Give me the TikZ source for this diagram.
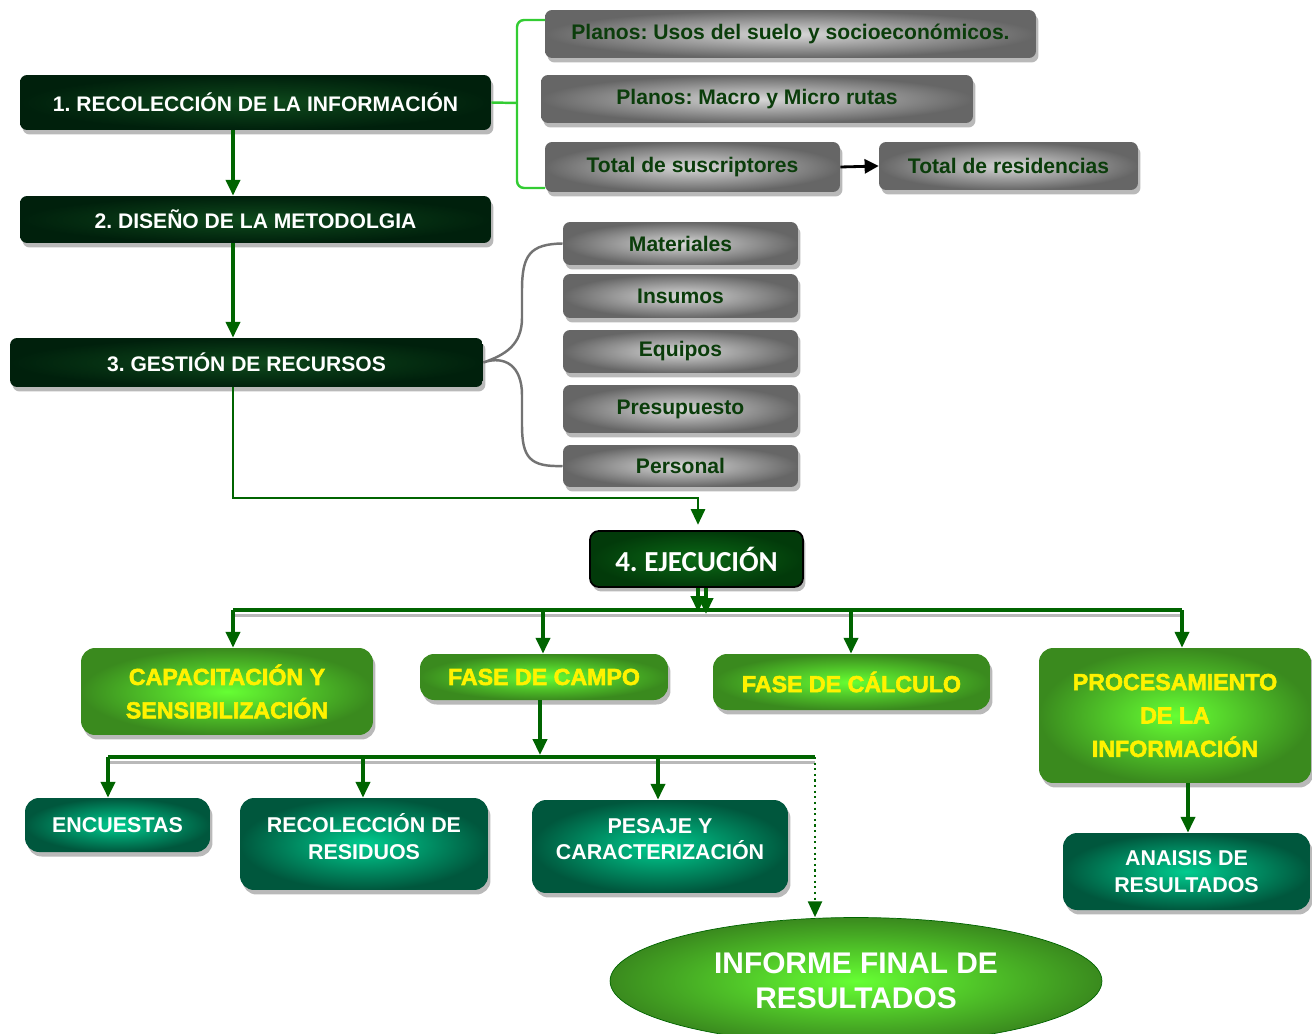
\documentclass[tikz,border=0pt]{standalone}
\usepackage{fontspec}
\setmainfont{Liberation Sans}
\newfontfamily\calfont{Carlito}
\newfontfamily\blackfont[BoldFeatures={FakeBold=2.5}]{Liberation Sans}
\usetikzlibrary{arrows.meta,shadows,shapes.geometric}
\frenchspacing
\definecolor{darkout}{HTML}{00200C}
\definecolor{darkin}{HTML}{0E4A1C}
\definecolor{ejecin}{HTML}{0B6A16}
\definecolor{ejecout}{HTML}{023A0A}
\definecolor{arrowgreen}{HTML}{006400}
\definecolor{limeline}{HTML}{33CC33}
\definecolor{graytext}{HTML}{0B3D0B}
\definecolor{leafin}{HTML}{66FF33}
\definecolor{leafout}{HTML}{3A8A1E}
\definecolor{tealin}{HTML}{00CC8F}
\definecolor{tealout}{HTML}{00573D}
\tikzset{
  box/.style={rounded corners=4pt, inner sep=0pt, align=center,
    drop shadow={shadow xshift=0.05cm, shadow yshift=-0.09cm, fill=gray!55, opacity=1}},
  darkbox/.style={box, inner color=darkin, outer color=darkout, text=white,
    font=\fontsize{12}{14}\selectfont\bfseries},
  graybox/.style={box, inner color=black!15, outer color=black!60, text=graytext,
    font=\fontsize{12}{14}\selectfont\bfseries},
  leafbox/.style={box, rounded corners=8pt, inner color=leafin, outer color=leafout, text=yellow,
    font=\fontsize{13.2}{19}\selectfont\blackfont\bfseries},
  tealbox/.style={box, rounded corners=8pt, inner color=tealin, outer color=tealout, text=white,
    font=\fontsize{12.2}{15}\selectfont\bfseries},
  arr/.style={draw=arrowgreen, line width=2pt, -{Triangle[length=9pt,width=8pt]}},
  busline/.style={draw=arrowgreen, line width=2pt, preaction={draw=gray!55, line width=1.5pt, transform canvas={yshift=-3pt}}}
}
\begin{document}
\begin{tikzpicture}[x=0.02cm, y=-0.02cm]
\useasboundingbox (0,0) rectangle (1312,1034);
% etapas
\node[darkbox, minimum width=9.42cm, minimum height=1.1cm] (rec) at (255.5,102.5) {1. RECOLECCIÓN DE LA INFORMACIÓN};
\node[darkbox, minimum width=9.42cm, minimum height=0.94cm] (dis) at (255.5,219.5) {2. DISEÑO DE LA METODOLGIA};
\node[darkbox, minimum width=9.46cm, minimum height=0.98cm] (ges) at (246.5,362.5) {3. GESTIÓN DE RECURSOS};
\node[darkbox, draw=black, line width=1pt, rounded corners=5pt, inner color=ejecin, outer color=ejecout,
  minimum width=4.26cm, minimum height=1.12cm,
  font=\fontsize{16.5}{18}\selectfont\calfont\bfseries] (ejec) at (696.5,559) {4. EJECUCIÓN};
% informacion
\node[graybox, minimum width=9.82cm, minimum height=0.96cm] (usos) at (790.5,34) {Planos: Usos del suelo y socioeconómicos.};
\node[graybox, minimum width=8.64cm, minimum height=0.96cm] (macro) at (757,99) {Planos: Macro y Micro rutas};
\node[graybox, minimum width=5.9cm, minimum height=1cm] (susc) at (692.5,167) {Total de suscriptores};
\node[graybox, minimum width=5.18cm, minimum height=0.96cm] (resid) at (1008.5,166) {Total de residencias};
% recursos
\node[graybox, minimum width=4.7cm, minimum height=0.86cm] (mat) at (680.5,243.5) {Materiales};
\node[graybox, minimum width=4.7cm, minimum height=0.88cm] (ins) at (680.5,296) {Insumos};
\node[graybox, minimum width=4.7cm, minimum height=0.86cm] (equ) at (680.5,351.5) {Equipos};
\node[graybox, minimum width=4.7cm, minimum height=0.96cm] (pre) at (680.5,409) {Presupuesto};
\node[graybox, minimum width=4.7cm, minimum height=0.84cm] (per) at (680.5,466) {Personal};
% fases
\node[leafbox, minimum width=5.84cm, minimum height=1.74cm] (cap) at (227,691.5) {CAPACITACIÓN Y\\SENSIBILIZACIÓN};
\node[leafbox, minimum width=4.96cm, minimum height=0.92cm] (campo) at (544,677) {FASE DE CAMPO};
\node[leafbox, minimum width=5.54cm, minimum height=1.12cm] (calc) at (851.5,682) {FASE DE CÁLCULO};
\node[leafbox, minimum width=5.44cm, minimum height=2.7cm] (proc) at (1175,715.5) {PROCESAMIENTO\\DE LA\\INFORMACIÓN};
\node[tealbox, minimum width=3.7cm, minimum height=1.08cm] (enc) at (117.5,825) {ENCUESTAS};
\node[tealbox, minimum width=4.96cm, minimum height=1.84cm] (recres) at (364,844) {RECOLECCIÓN DE\\RESIDUOS\\[-0.22cm]};
\node[tealbox, minimum width=5.12cm, minimum height=1.86cm] (pes) at (660,846.5) {PESAJE Y\\CARACTERIZACIÓN\\[-0.22cm]};
\node[tealbox, minimum width=4.94cm, minimum height=1.54cm] (ana) at (1186.5,871.5) {ANAISIS DE\\RESULTADOS};
\node[ellipse, draw=arrowgreen, inner color=leafin, outer color=leafout, text=white, align=center,
  minimum width=9.84cm, minimum height=2.54cm, inner sep=0pt,
  font=\fontsize{17}{20}\selectfont\bfseries] (inf) at (856,981) {INFORME FINAL DE\\RESULTADOS};
% puntos de giro
\coordinate (colA) at (233,0);
\coordinate (gbend) at (698,498);
\coordinate (busL) at (233,610);
\coordinate (busR) at (1182,610);
\coordinate (subL) at (108,757);
\coordinate (subR) at (815,757);
% conectores
\path[draw, limeline, line width=1.4pt, rounded corners=3pt] (rec.east) -- (517,103);
\path[draw, limeline, line width=1.4pt, rounded corners=4pt] (545,20) -- (517,20) -- (517,188) -- (545,188);
\path[draw, black!55, line width=1.4pt] (mat.west) .. controls (530,244) and (522,255) .. (522,290) -- (522,318)
  .. controls (522,345) and (505,355) .. (ges.east) .. controls (505,355) and (522,366) .. (522,395) -- (522,425)
  .. controls (522,458) and (530,467) .. (per.west);
\path[draw, black, line width=1.6pt, -{Triangle[length=8pt,width=8pt]}] (susc.east) -- (resid.west);
\path[arr] (rec.south -| colA) -- (dis.north -| colA);
\path[arr] (dis.south -| colA) -- (ges.north -| colA);
\path[arr, line width=1.6pt, shorten >=3pt] (ges.south -| colA) |- (gbend) -- (ejec.north -| gbend);
\path[busline] (busL) -- (busR);
\path[arr] (ejec.south -| 698,0) -- (698,612);
\path[arr] (ejec.south -| 706,0) -- (706,614);
\path[arr] (busL) -- (cap.north -| busL);
\path[arr] (543,612) -- (campo.north -| 543,0);
\path[arr] (851,612) -- (calc.north -| 851,0);
\path[arr] (busR) -- (proc.north -| busR);
\path[arr] (campo.south -| 540,0) -- (540,755);
\path[busline] (subL) -- (subR);
\path[arr] (subL) -- (enc.north -| subL);
\path[arr] (363,759) -- (recres.north -| 363,0);
\path[arr] (658,759) -- (pes.north -| 658,0);
\path[arr, line width=1.2pt, dotted] (subR) -- (inf.north -| subR);
\path[arr] (proc.south -| 1188,0) -- (ana.north -| 1188,0);
\end{tikzpicture}
\end{document}
